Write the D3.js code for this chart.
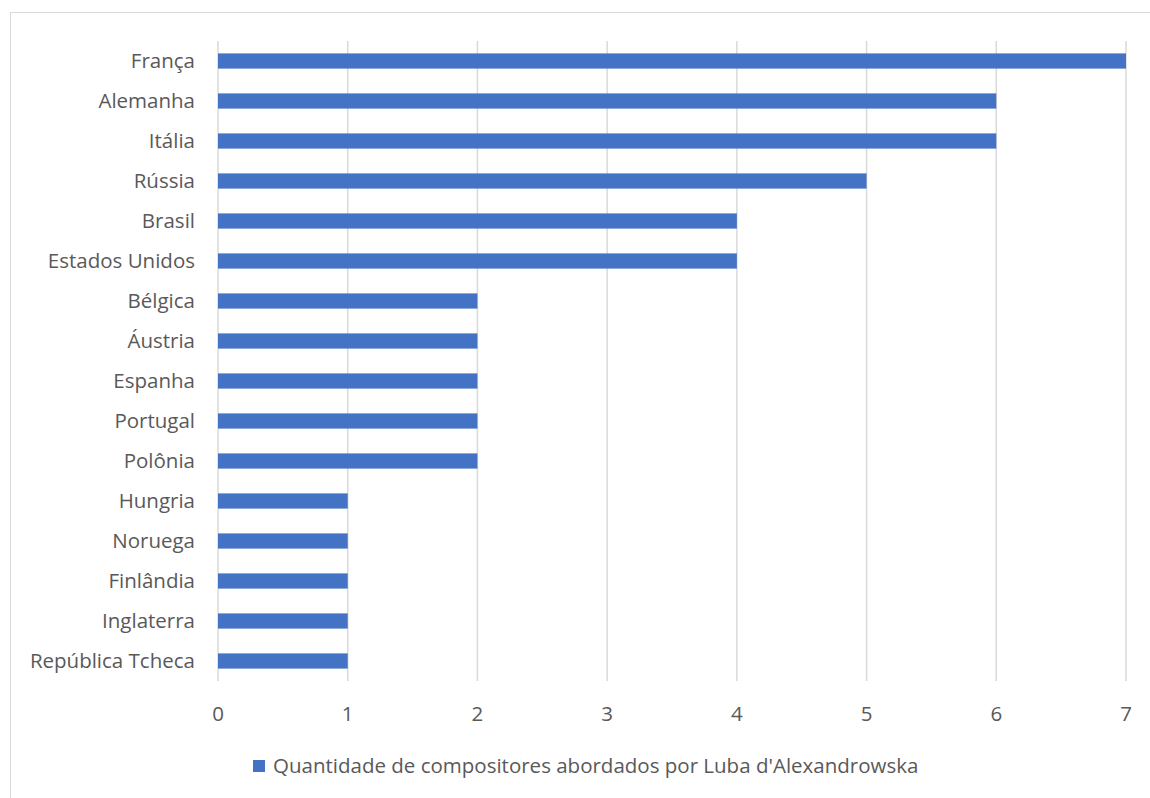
<!DOCTYPE html>
<html>
<head>
<meta charset="utf-8">
<title>Compositores por país</title>
<script src="https://d3js.org/d3.v7.min.js"></script>
<style>
body{
	margin: 0;
	background: #fff;
	font-family: "Open Sans", sans-serif;
}
</style>
</head>
<body>
<div id="chart"></div>
<script>

var countries = ['França', 'Alemanha', 'Itália', 'Rússia', 'Brasil', 'Estados Unidos',
	'Bélgica', 'Áustria', 'Espanha', 'Portugal', 'Polônia', 'Hungria', 'Noruega',
	'Finlândia', 'Inglaterra', 'República Tcheca'];
var values = [7, 6, 6, 5, 4, 4, 2, 2, 2, 2, 2, 1, 1, 1, 1, 1];
var xTicks = [0, 1, 2, 3, 4, 5, 6, 7];
var seriesName = "Quantidade de compositores abordados por Luba d'Alexandrowska";

var width = 1150, height = 798;
var margin = {top: 41, left: 218, right: 24, bottom: 117};
var fontSize = 20.5;

var svg = d3.select("#chart")
	.append("svg")
	.attr("width", width)
	.attr("height", height);

// chart frame
svg.append("rect")
	.attr("x", 10.5)
	.attr("y", 12.5)
	.attr("width", width + 20)
	.attr("height", height + 20)
	.attr("fill", "none")
	.attr("stroke", "#d9d9d9");

var x = d3.scaleLinear()
	.domain([0, 7])
	.range([margin.left, width - margin.right]);

var y = d3.scaleBand()
	.domain(countries)
	.range([margin.top, height - margin.bottom])
	.paddingInner(0.62)
	.paddingOuter(0.31);

// vertical gridlines
svg.append("g")
	.selectAll("line")
	.data(xTicks)
	.join("line")
	.attr("x1", d => x(d))
	.attr("x2", d => x(d))
	.attr("y1", margin.top)
	.attr("y2", height - margin.bottom)
	.attr("stroke", "#d9d9d9")
	.attr("stroke-width", 1.5);

// bars
svg.append("g")
	.selectAll("rect")
	.data(values)
	.join("rect")
	.attr("x", x(0))
	.attr("y", (d, i) => y(countries[i]))
	.attr("width", d => x(d) - x(0))
	.attr("height", y.bandwidth())
	.attr("fill", "#4472c4");

// category labels
svg.append("g")
	.selectAll("text")
	.data(countries)
	.join("text")
	.attr("x", margin.left - 23)
	.attr("y", d => y(d) + y.bandwidth() / 2)
	.attr("dy", "0.35em")
	.attr("text-anchor", "end")
	.attr("font-size", fontSize)
	.attr("fill", "#595959")
	.text(d => d);

// x tick labels
svg.append("g")
	.selectAll("text")
	.data(xTicks)
	.join("text")
	.attr("x", d => x(d))
	.attr("y", 714)
	.attr("dy", "0.35em")
	.attr("text-anchor", "middle")
	.attr("font-size", fontSize)
	.attr("fill", "#595959")
	.text(d => d);

// legend
var legend = svg.append("g").attr("transform", "translate(253,760)");
legend.append("rect")
	.attr("width", 12)
	.attr("height", 12)
	.attr("fill", "#4472c4");
legend.append("text")
	.attr("x", 20)
	.attr("y", 6)
	.attr("dy", "0.35em")
	.attr("font-size", fontSize)
	.attr("fill", "#595959")
	.text(seriesName);

</script>
</body>
</html>
